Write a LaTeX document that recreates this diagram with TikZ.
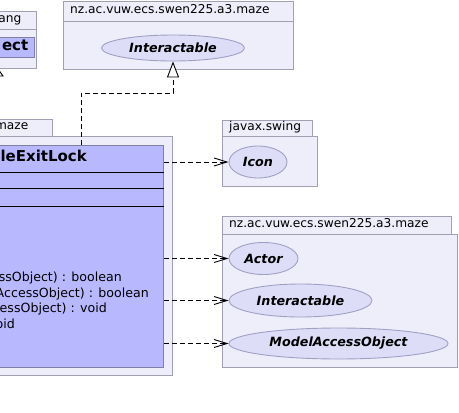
\documentclass[tikz,border=0pt]{standalone}
\usepackage{fontspec}
\setmainfont{DejaVu Sans}[ItalicFont={DejaVu Sans Oblique},BoldFont={DejaVu Sans Bold},BoldItalicFont={DejaVu Sans Bold Oblique}]
\usetikzlibrary{shapes.geometric,arrows.meta,calc}
\definecolor{pkgfill}{RGB}{238,238,251}
\definecolor{pkgdraw}{RGB}{160,160,178}
\definecolor{clsfill}{RGB}{184,184,255}
\definecolor{clsdraw}{RGB}{128,128,164}
\definecolor{elfill}{RGB}{221,221,248}
\definecolor{eldraw}{RGB}{160,160,195}
\tikzset{
  pkg/.style={draw=pkgdraw,fill=pkgfill,line width=0.9pt},
  clsbox/.style={draw=clsdraw,fill=clsfill,line width=0.9pt,rectangle,inner sep=0pt},
  iface/.style={ellipse,draw=eldraw,fill=elfill,line width=0.9pt,inner sep=0pt,font=\fontsize{12.7}{14}\selectfont\bfseries\itshape},
  pkglabel/.style={inner sep=0pt,font=\fontsize{12.2}{14}\selectfont},
  methodtxt/.style={inner sep=0pt,anchor=mid east,font=\fontsize{12.6}{14}\selectfont},
  dep/.style={draw=black,line width=0.9pt,dash pattern=on 5pt off 3pt,-{Straight Barb[length=13pt,width=8pt,line width=0.9pt]}},
  real/.style={draw=black,line width=0.9pt,dash pattern=on 5pt off 3pt,-{Triangle[length=16pt,width=12pt,fill=white,line width=0.9pt]}},
  sepline/.style={draw=black,line width=0.9pt}
}
\begin{document}
\begin{tikzpicture}[x=1pt,y=-1pt]
\useasboundingbox (0,0) rectangle (459,413);
\fill[white] (0,0) rectangle (459,413);

% java.lang package (clipped at the left edge)
\draw[pkg] (-10,11) rectangle (36,29);
\draw[pkg] (-10,29) rectangle (36,68);
\node[pkglabel,anchor=mid east] (langlbl) at (21.5,20) {ang};
\node[clsbox,minimum width=44pt,minimum height=20pt,anchor=north west] (obj) at (-10,37) {};
\node[inner sep=0pt,anchor=mid east,font=\fontsize{15}{17}\selectfont\bfseries] (objlbl) at (28.5,47.5) {ect};
\draw[line width=0.9pt,fill=white] (-2,69) -- (3,76) -- (-7,76) -- cycle;

% top maze package
\draw[pkg] (63,1) rectangle (293,21);
\draw[pkg] (63,21) rectangle (293,69);
\node[pkglabel,anchor=mid west] (toplbl) at (70,11) {nz.ac.vuw.ecs.swen225.a3.maze};
\node[iface,minimum width=143pt,minimum height=26pt] (topI) at (173,48) {Interactable};

% left maze package with the class
\draw[pkg] (-10,119) rectangle (52,136);
\draw[pkg] (-10,136) rectangle (172,375);
\node[pkglabel,anchor=mid east] (mazelbl) at (28.5,127) {maze};
\node[clsbox,minimum width=173pt,minimum height=222pt,anchor=north west] (cls) at (-10,145) {};
\node[inner sep=0pt,anchor=mid east,font=\fontsize{15}{17}\selectfont\bfseries] (clsname) at (87,159) {leExitLock};
\draw[sepline] (-10,172) -- (cls.east |- 0,172);
\draw[sepline] (-10,188) -- (cls.east |- 0,188);
\draw[sepline] (-10,206) -- (cls.east |- 0,206);
\node[methodtxt] (m1) at (122,279) {ssObject) : boolean};
\node[methodtxt] (m2) at (149,294.5) {AccessObject) : boolean};
\node[methodtxt] (m3) at (107,310) {cessObject) : void};
\node[methodtxt] (m4) at (15,326) {oid};

% javax.swing package
\draw[pkg] (222,120) rectangle (312,136);
\draw[pkg] (222,136) rectangle (317,186);
\node[pkglabel,anchor=mid west] (swinglbl) at (229,128) {javax.swing};
\node[iface,minimum width=58pt,minimum height=32pt] (icon) at (258,162) {Icon};

% lower maze package
\draw[pkg] (222,216) rectangle (451,234);
\draw[pkg] (222,234) rectangle (457,367);
\node[pkglabel,anchor=mid west] (lowlbl) at (229,225) {nz.ac.vuw.ecs.swen225.a3.maze};
\node[iface,minimum width=69pt,minimum height=32pt] (actor) at (263.5,258.5) {Actor};
\node[iface,minimum width=143pt,minimum height=33pt] (inter) at (300.5,300.5) {Interactable};
\node[iface,minimum width=219pt,minimum height=31pt] (mao) at (338.5,343.5) {ModelAccessObject};

% connectors
\coordinate (bend) at (81,93);
\draw[real] (cls.north -| bend) -- (bend) -- (bend -| topI.south) -- (topI.south);
\draw[dep] (cls.east |- icon.west) -- (icon.west);
\draw[dep] (cls.east |- actor.west) -- (actor.west);
\draw[dep] (cls.east |- inter.west) -- (inter.west);
\draw[dep] (cls.east |- mao.west) -- (mao.west);
\end{tikzpicture}
\end{document}
